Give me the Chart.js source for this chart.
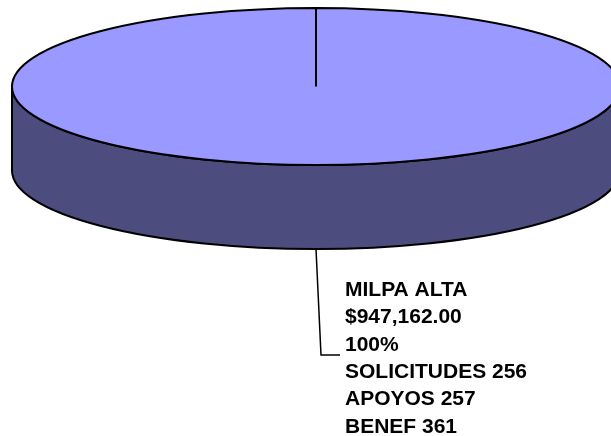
<!DOCTYPE html>
<html>
<head>
<meta charset="utf-8">
<script src="https://cdn.jsdelivr.net/npm/chart.js@4.4.0/dist/chart.umd.min.js"></script>
<style>
  html, body { margin: 0; padding: 0; background: #fff; overflow: hidden; }
  #wrap { width: 611px; height: 436px; }
</style>
</head>
<body>
<div id="wrap"><canvas id="pie" width="611" height="436"></canvas></div>
<script>
// --- Data ---
const delegaciones = ['MILPA ALTA'];
const montos = [947162.00];
const solicitudes = [256];
const apoyos = [257];
const beneficiarios = [361];

// --- Look of the 3D pie ---
const TOP_COLOR = '#9999ff';
const SIDE_COLOR = '#4c4d7e';
const STRETCH_X = 304 / 78.5;   // the flat circle gets pulled into a wide ellipse
const DEPTH = 84;               // height of the side wall
const LABEL_FONT = 'bold 21px "Liberation Sans", Arial, sans-serif';

function fmtMoney(v) {
    const parts = v.toFixed(2).split('.');
    return '$' + parts[0].replace(/\B(?=(\d{3})+$)/g, ',') + '.' + parts[1];
}

// --- Plugin: fake the Excel style 3D pie ---
const pie3d = {
    id: 'pie3d',
    beforeDatasetDraw(chart) {
        const ctx = chart.ctx;
        const arc = chart.getDatasetMeta(0).data[0];
        const rx = arc.outerRadius * STRETCH_X;
        const ry = arc.outerRadius;

        ctx.save();
        // side wall under the top face
        ctx.beginPath();
        ctx.moveTo(arc.x - rx, arc.y);
        ctx.lineTo(arc.x - rx, arc.y + DEPTH);
        ctx.ellipse(arc.x, arc.y + DEPTH, rx, ry, 0, Math.PI, 0, true);
        ctx.lineTo(arc.x + rx, arc.y);
        ctx.ellipse(arc.x, arc.y, rx, ry, 0, 0, Math.PI, false);
        ctx.closePath();
        ctx.fillStyle = SIDE_COLOR;
        ctx.fill();
        ctx.lineWidth = 2;
        ctx.strokeStyle = '#000';
        ctx.stroke();

        // stretch the library's circle sideways
        ctx.translate(arc.x, arc.y);
        ctx.scale(STRETCH_X, 1);
        ctx.translate(-arc.x, -arc.y);
    },
    afterDatasetDraw(chart) {
        const ctx = chart.ctx;
        ctx.restore();
        const meta = chart.getDatasetMeta(0);
        meta.data.forEach(arc => {
            const rx = arc.outerRadius * STRETCH_X;
            const ry = arc.outerRadius;
            ctx.save();
            ctx.lineWidth = 2;
            ctx.strokeStyle = '#000';
            ctx.beginPath();
            ctx.ellipse(arc.x, arc.y, rx, ry, 0, 0, Math.PI * 2);
            ctx.moveTo(arc.x, arc.y);
            ctx.lineTo(arc.x + Math.cos(arc.startAngle) * rx, arc.y + Math.sin(arc.startAngle) * ry);
            ctx.stroke();
            ctx.restore();
        });
    },
    afterDatasetsDraw(chart) {
        const ctx = chart.ctx;
        const meta = chart.getDatasetMeta(0);
        const total = montos.reduce((a, b) => a + b, 0);
        meta.data.forEach((arc, i) => {
            const rx = arc.outerRadius * STRETCH_X;
            const ry = arc.outerRadius;
            const mid = (arc.startAngle + arc.endAngle) / 2;
            const ax = arc.x + Math.cos(mid) * rx;
            const ay = arc.y + Math.sin(mid) * ry + DEPTH;

            // leader line
            ctx.save();
            ctx.lineWidth = 1.5;
            ctx.strokeStyle = '#000';
            ctx.beginPath();
            ctx.moveTo(ax, ay);
            ctx.lineTo(ax + 5, 355);
            ctx.lineTo(340, 355);
            ctx.stroke();

            const lines = [
                delegaciones[i],
                fmtMoney(montos[i]),
                Math.round(montos[i] / total * 100) + '%',
                'SOLICITUDES ' + solicitudes[i],
                'APOYOS ' + apoyos[i],
                'BENEF ' + beneficiarios[i]
            ];
            ctx.font = LABEL_FONT;
            ctx.fillStyle = '#000';
            ctx.textAlign = 'left';
            ctx.textBaseline = 'alphabetic';
            lines.forEach((t, k) => ctx.fillText(t, 345, 296 + k * 27.3));
            ctx.restore();
        });
    }
};

new Chart(document.getElementById('pie'), {
    type: 'pie',
    data: {
        labels: delegaciones,
        datasets: [{
            data: montos,
            backgroundColor: TOP_COLOR,
            borderWidth: 0
        }]
    },
    options: {
        responsive: false,
        animation: false,
        events: [],
        layout: { padding: { left: 21, right: 0, top: 8, bottom: 271 } },
        plugins: {
            legend: { display: false },
            tooltip: { enabled: false }
        }
    },
    plugins: [pie3d]
});
</script>
</body>
</html>
